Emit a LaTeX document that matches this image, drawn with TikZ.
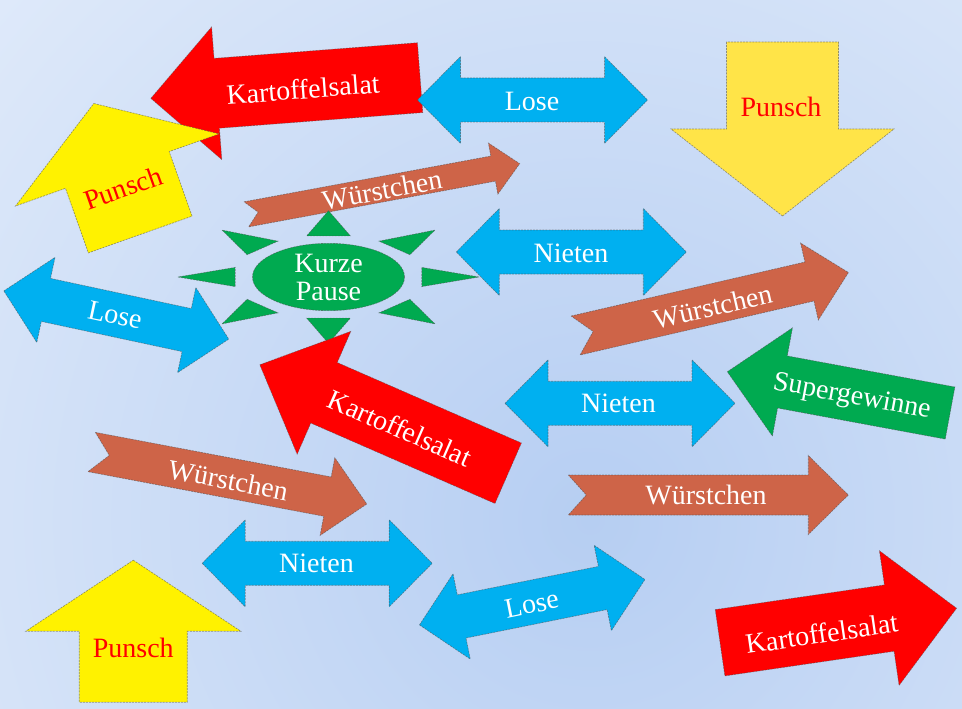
\documentclass[tikz,border=0pt]{standalone}
\usepackage{fontspec}
\setmainfont{Liberation Serif}
\usepackage{xcolor}
\usetikzlibrary{shapes.geometric}

\definecolor{skylight}{RGB}{228,237,251}
\definecolor{skydeep}{RGB}{182,206,242}
\definecolor{lightblue}{RGB}{0,176,240}
\definecolor{wurst}{RGB}{206,100,72}
\definecolor{pptgreen}{RGB}{0,170,80}
\definecolor{punschgold}{RGB}{255,228,72}

\begin{document}
\begin{tikzpicture}[x=0.75pt,y=-0.75pt,
  arrowfill/.style={fill=#1, draw=black!70, draw opacity=0.55, line width=0.5pt, dash pattern=on 1.5pt off 0.8pt},
  lbl/.style={font=\fontsize{21}{21}\selectfont, text=#1, inner sep=0pt},
  lbl/.default=white]

% Sky
\useasboundingbox (0,0) rectangle (962,709);
\fill[skylight] (0,0) rectangle (962,709);
\begin{scope}
  \clip (0,0) rectangle (962,709);
  \shade[inner color=skydeep, outer color=skylight] (590,520) circle (900);
\end{scope}

% Kartoffelsalat, top
\filldraw[arrowfill=red, shift={(285.5,88)}, rotate=4.4]
  (-135,0) -- (-69,-66.5) -- (-69,-35) -- (135,-35) -- (135,35) -- (-69,35) -- (-69,66.5) -- cycle;
\node[lbl, rotate=4.4] (salatTop) at (303,89) {Kartoffelsalat};

% Lose, top
\filldraw[arrowfill=lightblue, shift={(532.5,100)}]
  (-115,0) -- (-72,-43.5) -- (-72,-22) -- (72,-22) -- (72,-43.5) -- (115,0) -- (72,43.5) -- (72,22) -- (-72,22) -- (-72,43.5) -- cycle;
\node[lbl] (loseTop) at (532,101) {Lose};

% Punsch, top left
\filldraw[arrowfill=yellow, shift={(117,169)}, rotate=19.5]
  (0,-69.5) -- (108,1) -- (55,1) -- (55,69.5) -- (-55,69.5) -- (-55,1) -- (-108,1) -- cycle;
\node[lbl=red, rotate=19.5] (punschLeft) at (123,188) {Punsch};

% Punsch, top right
\filldraw[arrowfill=punschgold, shift={(782.5,129)}]
  (0,87) -- (-111.5,0) -- (-56,0) -- (-56,-87) -- (56,-87) -- (56,0) -- (111.5,0) -- cycle;
\node[lbl=red] (punschRight) at (781,107) {Punsch};

% Wuerstchen, top
\filldraw[arrowfill=wurst, shift={(383,189)}, rotate=10.5]
  (-139,-12.75) -- (112,-12.75) -- (112,-26) -- (139,0) -- (112,26) -- (112,12.75) -- (-139,12.75) -- (-127,0) -- cycle;
\node[lbl, rotate=10.5] (wurstTop) at (382,190) {Würstchen};

% Nieten, top
\filldraw[arrowfill=lightblue, shift={(571.3,252)}]
  (-115,0) -- (-72,-43.5) -- (-72,-22) -- (72,-22) -- (72,-43.5) -- (115,0) -- (72,43.5) -- (72,22) -- (-72,22) -- (-72,43.5) -- cycle;
\node[lbl] (nietenTop) at (571,253) {Nieten};

% Lose, left
\filldraw[arrowfill=lightblue, shift={(116.3,315)}, rotate=-12.1]
  (-115,0) -- (-72,-43.5) -- (-72,-22) -- (72,-22) -- (72,-43.5) -- (115,0) -- (72,43.5) -- (72,22) -- (-72,22) -- (-72,43.5) -- cycle;
\node[lbl, rotate=-12.1] (loseLeft) at (115,315) {Lose};

% Sun rays
\begin{scope}[shift={(328.5,277)}, xscale=150.5, yscale=66.3]
  \foreach \a in {0,45,...,315}
    \filldraw[arrowfill=pptgreen, rotate=\a] (1,0) -- (0.62,-0.145) -- (0.62,0.145) -- cycle;
\end{scope}
\node[arrowfill=pptgreen, ellipse, minimum width=114pt, minimum height=50.5pt, inner sep=0pt,
  lbl, align=center] (pause) at (328.5,277) {Kurze\\Pause};

% Wuerstchen, right
\filldraw[arrowfill=wurst, shift={(712,304)}, rotate=13]
  (-140,-20) -- (100,-20) -- (100,-39.5) -- (140,0) -- (100,39.5) -- (100,20) -- (-140,20) -- (-122,0) -- cycle;
\node[lbl, rotate=13] (wurstRight) at (712.5,306.5) {Würstchen};

% Kartoffelsalat, middle
\filldraw[arrowfill=red, shift={(384,419)}, rotate=-23.6]
  (-135.5,0) -- (-65.5,-67) -- (-65.5,-33) -- (135.5,-33) -- (135.5,33) -- (-65.5,33) -- (-65.5,67) -- cycle;
\node[lbl, rotate=-23.6] (salatMid) at (400,428) {Kartoffelsalat};

% Nieten, middle
\filldraw[arrowfill=lightblue, shift={(620,403.3)}]
  (-115,0) -- (-72,-43.5) -- (-72,-22) -- (72,-22) -- (72,-43.5) -- (115,0) -- (72,43.5) -- (72,22) -- (-72,22) -- (-72,43.5) -- cycle;
\node[lbl] (nietenMid) at (618.5,403.5) {Nieten};

% Supergewinne
\filldraw[arrowfill=pptgreen, shift={(838.7,392.4)}, rotate=-10.5]
  (-113.25,0) -- (-57.25,-55) -- (-57.25,-26.5) -- (113.25,-26.5) -- (113.25,26.5) -- (-57.25,26.5) -- (-57.25,55) -- cycle;
\node[lbl, rotate=-10.5] (supergewinne) at (851.7,397.5) {Supergewinne};

% Wuerstchen, lower left
\filldraw[arrowfill=wurst, shift={(229.2,478)}, rotate=-10.7]
  (-140,-20) -- (100,-20) -- (100,-39.5) -- (140,0) -- (100,39.5) -- (100,20) -- (-140,20) -- (-122,0) -- cycle;
\node[lbl, rotate=-10.7] (wurstLeft) at (228.3,480) {Würstchen};

% Wuerstchen, lower right
\filldraw[arrowfill=wurst, shift={(708.3,495)}]
  (-140,-20) -- (100,-20) -- (100,-39.5) -- (140,0) -- (100,39.5) -- (100,20) -- (-140,20) -- (-122,0) -- cycle;
\node[lbl] (wurstLow) at (706,495) {Würstchen};

% Nieten, bottom
\filldraw[arrowfill=lightblue, shift={(317.2,563.3)}]
  (-115,0) -- (-72,-43.5) -- (-72,-22) -- (72,-22) -- (72,-43.5) -- (115,0) -- (72,43.5) -- (72,22) -- (-72,22) -- (-72,43.5) -- cycle;
\node[lbl] (nietenLow) at (316.5,563.5) {Nieten};

% Lose, bottom
\filldraw[arrowfill=lightblue, shift={(532.2,602.2)}, rotate=11.4]
  (-115,0) -- (-72,-43.5) -- (-72,-22) -- (72,-22) -- (72,-43.5) -- (115,0) -- (72,43.5) -- (72,22) -- (-72,22) -- (-72,43.5) -- cycle;
\node[lbl, rotate=11.4] (loseLow) at (531.7,604) {Lose};

% Punsch, bottom left
\filldraw[arrowfill=yellow, shift={(133.3,631.2)}]
  (0,-71) -- (107.5,0) -- (54,0) -- (54,71) -- (-54,71) -- (-54,0) -- (-107.5,0) -- cycle;
\node[lbl=red] (punschLow) at (133.3,648.3) {Punsch};

% Kartoffelsalat, bottom right
\filldraw[arrowfill=red, shift={(838.3,625.5)}, rotate=8.3]
  (-119.5,-33.5) -- (51.5,-33.5) -- (51.5,-68) -- (119.5,0) -- (51.5,68) -- (51.5,33.5) -- (-119.5,33.5) -- cycle;
\node[lbl, rotate=8.3] (salatLow) at (821.7,633.3) {Kartoffelsalat};

\end{tikzpicture}
\end{document}
